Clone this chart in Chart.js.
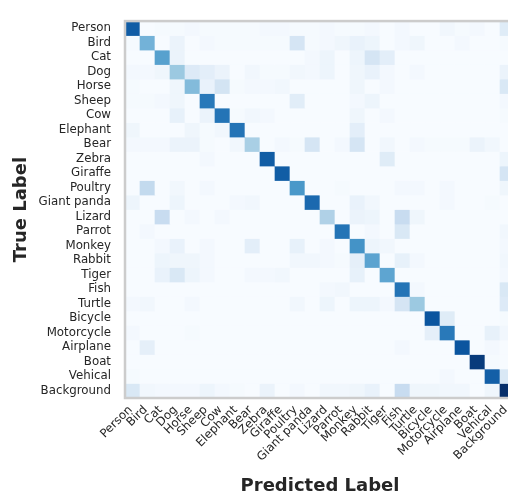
<!DOCTYPE html>
<html>
<head>
<meta charset="utf-8">
<script src="https://cdn.jsdelivr.net/npm/chart.js"></script>
<style>
  html, body { margin: 0; padding: 0; background: #fff; overflow: hidden; }
  #wrap { width: 530px; height: 497px; }
</style>
</head>
<body>
<div id="wrap"><canvas id="cm" width="530" height="497"></canvas></div>
<script>
const trueLabels = ["Person", "Bird", "Cat", "Dog", "Horse", "Sheep", "Cow", "Elephant", "Bear", "Zebra", "Giraffe", "Poultry", "Giant panda", "Lizard", "Parrot", "Monkey", "Rabbit", "Tiger", "Fish", "Turtle", "Bicycle", "Motorcycle", "Airplane", "Boat", "Vehical", "Background"];
const predLabels = ["Person", "Bird", "Cat", "Dog", "Horse", "Sheep", "Cow", "Elephant", "Bear", "Zebra", "Giraffe", "Poultry", "Giant panda", "Lizard", "Parrot", "Monkey", "Rabbit", "Tiger", "Fish", "Turtle", "Bicycle", "Motorcycle", "Airplane", "Boat", "Vehical", "Background"];

// one row per true label, one value per predicted label (share of the row)
const person     = [.83, 0, .01, .01, .02, .01, .01, .01, .01, .02, .02, .01, .01, .02, .01, .01, .02, 0, .02, 0, 0, .03, .01, .02, 0, .12];
const bird       = [.01, .48, 0, .06, 0, .02, .01, .01, .01, .01, .01, .17, .01, .02, .04, .07, .05, 0, .02, .04, 0, 0, .02, 0, 0, .01];
const cat        = [0, 0, .56, .06, 0, 0, 0, 0, 0, 0, 0, 0, .02, .05, 0, .05, .17, .1, 0, 0, 0, 0, 0, 0, 0, 0];
const dog        = [.02, .02, .04, .38, .13, .1, .06, 0, .03, .01, .01, .03, .02, .05, 0, .04, .07, .02, 0, .02, 0, 0, 0, 0, 0, .06];
const horse      = [.01, 0, 0, .04, .44, .07, .18, .01, .02, .02, .03, 0, 0, 0, 0, .04, 0, .02, 0, 0, 0, 0, 0, 0, 0, .15];
const sheep      = [.01, .01, .02, .04, 0, .72, 0, 0, 0, 0, 0, .11, 0, 0, 0, .02, .05, 0, 0, 0, 0, 0, 0, 0, 0, .02];
const cow        = [0, 0, 0, .08, 0, .06, .74, .01, .03, .02, 0, 0, 0, 0, 0, .04, 0, .02, 0, 0, 0, 0, 0, 0, 0, .01];
const elephant   = [.04, 0, 0, 0, .04, .01, .03, .74, 0, 0, 0, 0, 0, 0, 0, .1, 0, 0, 0, 0, 0, 0, 0, 0, 0, 0];
const bear       = [.02, .02, .02, .06, .06, .01, 0, .03, .34, 0, .02, .01, .17, 0, .02, .17, 0, .03, 0, .02, .01, .01, .01, .06, .03, 0];
const zebra      = [0, 0, 0, 0, 0, .02, 0, 0, 0, .83, 0, 0, 0, 0, 0, 0, 0, .12, 0, 0, 0, 0, 0, 0, 0, .05];
const giraffe    = [0, 0, 0, 0, 0, 0, 0, 0, 0, 0, .83, 0, 0, 0, 0, 0, 0, 0, 0, 0, 0, 0, 0, 0, 0, .17];
const poultry    = [0, .26, 0, .03, 0, .02, 0, 0, 0, 0, 0, .6, 0, 0, .01, 0, 0, 0, .02, .02, 0, .02, 0, 0, 0, .04];
const giantPanda = [.05, 0, 0, .05, 0, 0, 0, .02, .03, 0, 0, 0, .78, 0, 0, .07, .03, 0, 0, 0, 0, .02, 0, 0, .01, 0];
const lizard     = [0, 0, .24, 0, .02, 0, .02, 0, 0, 0, 0, 0, 0, .32, 0, .06, .05, 0, .24, .04, 0, 0, 0, 0, 0, 0];
const parrot     = [0, .02, 0, 0, 0, 0, 0, 0, 0, 0, 0, 0, 0, 0, .74, 0, .02, 0, .15, 0, 0, 0, 0, 0, 0, .03];
const monkey     = [0, 0, .02, .07, 0, .02, 0, 0, .1, 0, 0, .08, 0, .02, 0, .62, .05, .03, 0, 0, 0, 0, 0, 0, 0, .02];
const rabbit     = [0, 0, .05, .04, .04, .02, 0, 0, 0, 0, 0, .03, .03, .02, .01, .09, .55, 0, .08, .02, 0, 0, 0, 0, 0, .03];
const tiger      = [0, 0, .07, .15, .05, .02, 0, 0, .02, .02, .03, 0, 0, 0, 0, .08, 0, .54, 0, 0, 0, 0, 0, 0, 0, .02];
const fish       = [0, 0, 0, 0, 0, 0, 0, 0, 0, 0, 0, 0, 0, .02, .03, 0, 0, 0, .74, .02, 0, 0, 0, 0, 0, .15];
const turtle     = [.02, .03, 0, 0, .02, 0, 0, 0, 0, 0, 0, .03, 0, .05, 0, .05, .05, .02, .17, .38, 0, 0, 0, 0, 0, .13];
const bicycle    = [0, 0, 0, 0, 0, 0, 0, 0, 0, 0, 0, 0, 0, 0, 0, 0, 0, 0, 0, 0, .86, .12, 0, 0, 0, .01];
const motorcycle = [.02, 0, 0, 0, .01, 0, 0, 0, 0, 0, 0, 0, 0, 0, 0, 0, 0, 0, 0, 0, .09, .72, 0, 0, .08, .03];
const airplane   = [0, .09, 0, 0, 0, 0, 0, 0, 0, 0, 0, 0, 0, 0, 0, 0, 0, 0, .02, 0, 0, 0, .86, 0, .02, 0];
const boat       = [0, 0, 0, 0, 0, 0, 0, 0, 0, 0, 0, 0, 0, 0, 0, 0, 0, 0, 0, 0, 0, 0, 0, .96, .01, 0];
const vehical    = [.01, 0, 0, 0, 0, 0, 0, 0, 0, 0, 0, 0, 0, 0, 0, 0, 0, 0, 0, 0, 0, .02, 0, 0, .82, .15];
const background = [.15, .03, .02, .02, .02, .05, .02, .01, 0, .06, 0, .02, 0, .03, .03, .04, .07, 0, .24, .04, .04, .03, .03, 0, .04, 1];

const rows = [person, bird, cat, dog, horse, sheep, cow, elephant, bear, zebra, giraffe, poultry, giantPanda,
  lizard, parrot, monkey, rabbit, tiger, fish, turtle, bicycle, motorcycle, airplane, boat, vehical, background];

// matplotlib "Blues"
const bluesStops = ["#f7fbff", "#deebf7", "#c6dbef", "#9ecae1", "#6baed6", "#4292c6", "#2171b5", "#08519c", "#08306b"];
const hexToRgb = (h) => [1, 3, 5].map((i) => parseInt(h.slice(i, i + 2), 16));

function blues(v) {
  const t = Math.max(0, Math.min(1, v)) * (bluesStops.length - 1);
  const i = Math.min(Math.floor(t), bluesStops.length - 2);
  const f = t - i;
  const a = hexToRgb(bluesStops[i]);
  const b = hexToRgb(bluesStops[i + 1]);
  const c = a.map((x, k) => Math.round(x + (b[k] - x) * f));
  return `rgb(${c[0]},${c[1]},${c[2]})`;
}

const frame = {
  id: "frame",
  afterDatasetsDraw(chart) {
    const { ctx, chartArea } = chart;
    ctx.save();
    ctx.strokeStyle = "#cccccc";
    ctx.lineWidth = 2.5;
    ctx.strokeRect(chartArea.left, chartArea.top, chartArea.right - chartArea.left, chartArea.bottom - chartArea.top);
    ctx.restore();
  },
};

const textColor = "#262626";
const tickFont = { family: "DejaVu Sans", size: 11.8 };
const titleFont = { family: "DejaVu Sans", size: 18, weight: "bold" };

new Chart(document.getElementById("cm"), {
  type: "bar",
  data: {
    labels: predLabels,
    datasets: rows.map((vals, r) => ({
      label: trueLabels[r],
      data: vals.map(() => [r - 0.5, r + 0.5]),
      backgroundColor: vals.map(blues),
      borderWidth: 0,
      grouped: false,
      barPercentage: 1,
      categoryPercentage: 1,
    })),
  },
  options: {
    responsive: false,
    animation: false,
    layout: { padding: { top: 8, right: 15, left: 0, bottom: 0 } },
    plugins: {
      legend: { display: false },
      tooltip: { enabled: false },
    },
    scales: {
      x: {
        type: "category",
        grid: { display: false, drawTicks: false },
        border: { display: false },
        ticks: {
          autoSkip: false,
          maxRotation: 45,
          minRotation: 45,
          padding: 5,
          labelOffset: -2,
          color: textColor,
          font: tickFont,
        },
        title: {
          display: true,
          text: "Predicted Label",
          color: textColor,
          font: titleFont,
          padding: { top: 0, bottom: 0 },
        },
        afterFit(scale) {
          scale.height = 99;
        },
      },
      y: {
        type: "linear",
        reverse: true,
        min: -0.5,
        max: 25.5,
        grid: { display: false, drawTicks: false },
        border: { display: false },
        afterBuildTicks(scale) {
          scale.ticks = trueLabels.map((_, i) => ({ value: i }));
        },
        ticks: {
          autoSkip: false,
          padding: 14,
          color: textColor,
          font: tickFont,
          callback: (v) => trueLabels[v],
        },
        title: {
          display: true,
          text: "True Label",
          color: textColor,
          font: titleFont,
          padding: { top: 10.5, bottom: 0 },
        },
        afterFit(scale) {
          scale.width = 125;
        },
      },
    },
  },
  plugins: [frame],
});
</script>
</body>
</html>
